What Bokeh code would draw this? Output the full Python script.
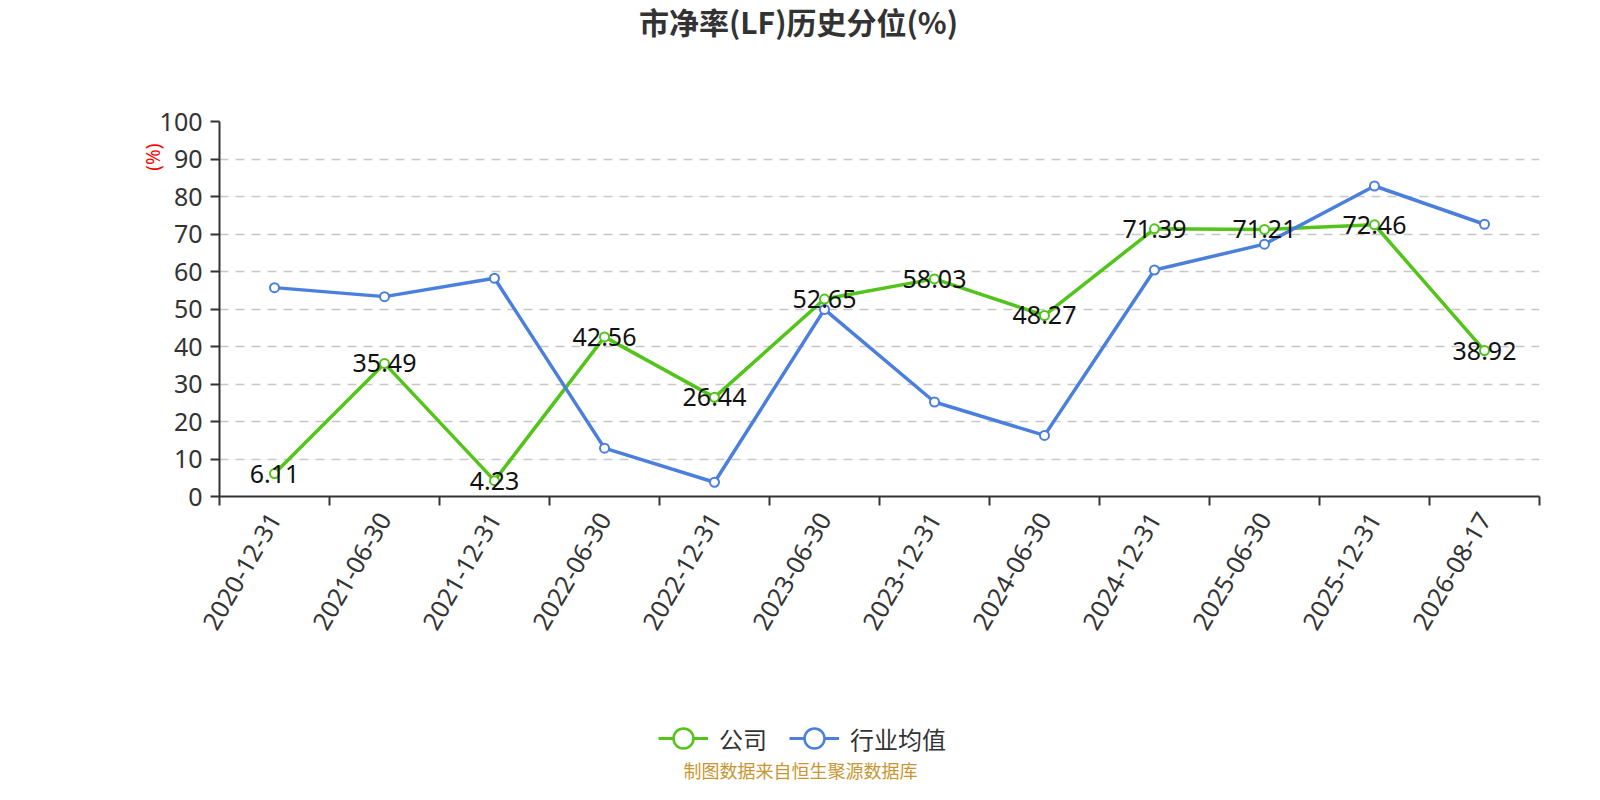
import math
from bokeh.plotting import figure
from bokeh.layouts import column
from bokeh.models import (Range1d, FixedTicker, ColumnDataSource, Legend, LegendItem, Title)
from bokeh.core.properties import value
from bokeh.embed import file_html
from bokeh.resources import INLINE

# ---- data ----
dates = ["2020-12-31", "2021-06-30", "2021-12-31", "2022-06-30", "2022-12-31", "2023-06-30",
         "2023-12-31", "2024-06-30", "2024-12-31", "2025-06-30", "2025-12-31", "2026-08-17"]
company = [6.11, 35.49, 4.23, 42.56, 26.44, 52.65, 58.03, 48.27, 71.39, 71.21, 72.46, 38.92]
industry = [55.7, 53.3, 58.2, 12.9, 3.8, 49.9, 25.2, 16.3, 60.4, 67.3, 82.8, 72.6]
y_ticks = [0, 10, 20, 30, 40, 50, 60, 70, 80, 90, 100]
series_names = ["公司", "行业均值"]
title_text = "市净率(LF)历史分位(%)"
footer_text = "制图数据来自恒生聚源数据库"
y_unit = "(%)"

GREEN = "#52C41A"
BLUE = "#4B7FDE"
AXIS = "#333333"
NUM_FONT = "Noto Sans"
CJK_FONT = "Noto Sans CJK SC"

W = 1584
BL, BR = 219, 45          # left / right borders shared by all strips
H0, H1 = 60, 640
H2 = 784 - H0 - H1
n = len(dates)
xs = [i + 0.5 for i in range(n)]


def strip(height):
    f = figure(width=W, height=height, output_backend="svg", toolbar_location=None,
               x_range=Range1d(BL, W - BR), y_range=Range1d(0, height),
               x_axis_type=None, y_axis_type=None,
               min_border_left=BL, min_border_right=BR, min_border_top=0, min_border_bottom=0)
    f.outline_line_color = None
    f.grid.visible = False
    return f


# ---- title strip ----
p0 = strip(H0)
p0.text(x=[798], y=[H0 - 20], text=[title_text], text_align="center", text_baseline="middle",
        text_font=value(CJK_FONT), text_font_size="30px", text_font_style="bold",
        text_color=AXIS)

# ---- main chart ----
p = figure(width=W, height=H1, output_backend="svg", toolbar_location=None,
           x_range=Range1d(0, n), y_range=Range1d(0, 100),
           min_border_left=BL, min_border_right=BR, min_border_top=61,
           min_border_bottom=H1 - 61 - 375)
p.outline_line_color = None
p.background_fill_color = "white"

p.xaxis.ticker = FixedTicker(ticks=xs, minor_ticks=list(range(n + 1)))
p.xaxis.major_label_overrides = {x: d for x, d in zip(xs, dates)}
p.xaxis.major_label_orientation = math.pi / 3
p.xaxis.major_tick_out = 0
p.xaxis.major_tick_in = 0
p.xaxis.minor_tick_out = 9
p.xaxis.minor_tick_in = 0
p.xaxis.minor_tick_line_color = AXIS
p.xaxis.minor_tick_line_width = 2
p.xaxis.major_label_standoff = 9

p.yaxis.ticker = FixedTicker(ticks=y_ticks)
p.yaxis.major_tick_out = 9
p.yaxis.major_tick_in = 0
p.yaxis.minor_tick_line_color = None
p.yaxis.major_label_standoff = 8

for ax in (p.xaxis, p.yaxis):
    ax.axis_line_color = AXIS
    ax.axis_line_width = 2
    ax.major_tick_line_color = AXIS
    ax.major_tick_line_width = 2
    ax.major_label_text_font = NUM_FONT
    ax.major_label_text_font_size = "25px"
    ax.major_label_text_color = AXIS

p.xgrid.grid_line_color = None
p.ygrid.grid_line_color = "#C8C8C8"
p.ygrid.grid_line_width = 1.5
p.ygrid.grid_line_dash = "9 7"

src = ColumnDataSource(dict(x=xs, company=company, industry=industry,
                            lab=[f"{v:.2f}" for v in company]))

p.line("x", "company", source=src, line_color=GREEN, line_width=3.5)
p.scatter("x", "company", source=src, size=9, fill_color="white", line_color=GREEN, line_width=2)
p.line("x", "industry", source=src, line_color=BLUE, line_width=3.5)
p.scatter("x", "industry", source=src, size=9, fill_color="white", line_color=BLUE, line_width=2)

p.text("x", "company", text="lab", source=src, text_align="center", text_baseline="middle",
       text_font=value(NUM_FONT), text_font_size="25px", text_color="#111111")

# unit label near the top of the y axis
p.add_layout(Title(text=y_unit, align="right", offset=22, standoff=-18,
                   text_font=NUM_FONT, text_font_size="19px", text_font_style="normal",
                   text_color="red"), "left")

# ---- legend + source strip ----
p2 = strip(H2)
nan = float("nan")
proxy = ColumnDataSource(dict(x=[nan], y=[nan]))
lg_l = p2.line("x", "y", source=proxy, line_color=GREEN, line_width=3)
lg_s = p2.scatter("x", "y", source=proxy, size=20, fill_color="white", line_color=GREEN, line_width=2.5)
lb_l = p2.line("x", "y", source=proxy, line_color=BLUE, line_width=3)
lb_s = p2.scatter("x", "y", source=proxy, size=20, fill_color="white", line_color=BLUE, line_width=2.5)
legend = Legend(items=[LegendItem(label=series_names[0], renderers=[lg_l, lg_s]),
                       LegendItem(label=series_names[1], renderers=[lb_l, lb_s])],
                orientation="horizontal", location=(439, 21),
                border_line_color=None, background_fill_alpha=0,
                padding=0, margin=0, spacing=22, label_standoff=11,
                glyph_width=50, glyph_height=50,
                label_text_font=CJK_FONT, label_text_font_size="24px",
                label_text_color=AXIS)
p2.add_layout(legend, "center")

p2.text(x=[800], y=[15], text=[footer_text], text_align="center", text_baseline="middle",
        text_font=value(CJK_FONT), text_font_size="18px", text_color="#C8962F")

layout = column(p0, p, p2, spacing=0)
open("out.html", "w").write(file_html(layout, INLINE))
